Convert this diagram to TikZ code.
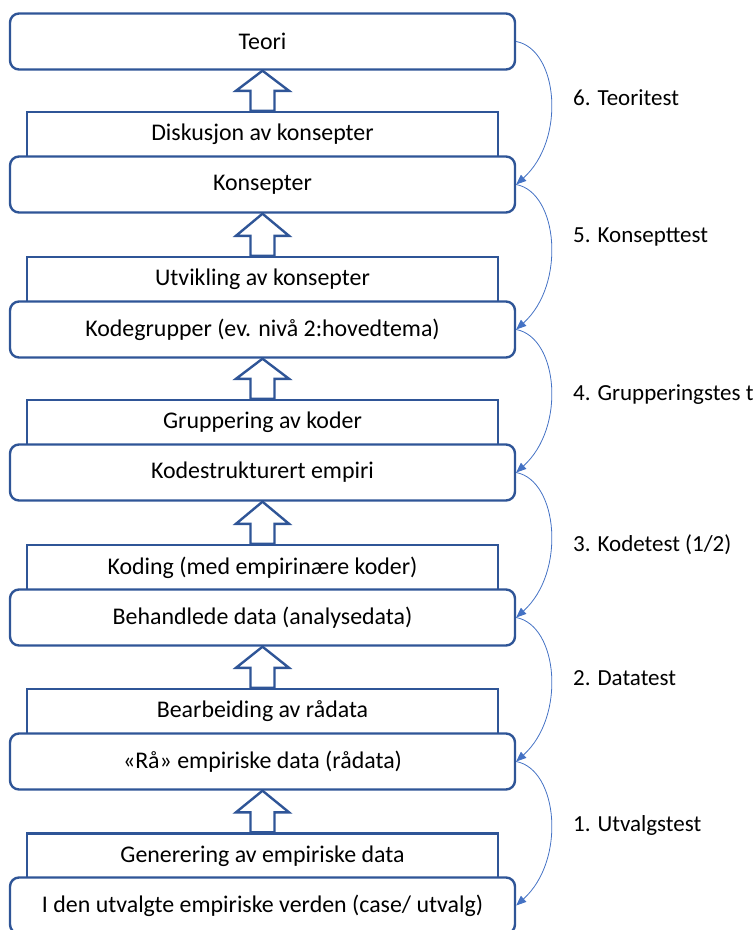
\documentclass[tikz,border=0pt]{standalone}
\usepackage{fontspec}
\setmainfont{Carlito}
\usetikzlibrary{arrows.meta}
\definecolor{boxblue}{HTML}{2F5597}
\definecolor{linkblue}{HTML}{4472C4}
\tikzset{
  stagebox/.style={draw=boxblue, line width=2.4pt, fill=white, rounded corners=9pt,
    minimum width=505pt, minimum height=56pt, inner sep=0pt, font=\fontsize{23.9}{27}\selectfont},
  procbox/.style={draw=boxblue, line width=2.4pt, fill=white,
    minimum width=471pt, minimum height=45pt, inner sep=0pt, font=\fontsize{23.9}{27}\selectfont},
  blk/.style={draw=boxblue, line width=2.4pt, fill=white, line join=miter},
  testlink/.style={draw=linkblue, line width=0.8pt, -{Triangle[length=10pt,width=8pt]}},
  testlabel/.style={anchor=west, inner sep=0pt, font=\fontsize{23}{27}\selectfont}
}
\newcommand{\blockup}[2]{%
  \draw[blk] ([xshift=-12pt]#1.north) -- ++(0,20) -- ++(-14.5,0) -- (#2.south)
    -- ([xshift=26.5pt,yshift=20pt]#1.north) -- ++(-14.5,0) -- ([xshift=12pt]#1.north) -- cycle;}
\begin{document}
\begin{tikzpicture}[x=1pt,y=1pt]
\useasboundingbox (0,0) rectangle (753,-930);
% process rectangles (drawn first)
\node[procbox] (disk) at (262.5,-134.5) {Diskusjon av konsepter};
\node[procbox] (utv)  at (262.5,-279.5) {Utvikling av konsepter};
\node[procbox] (grp)  at (262.5,-422.5) {Gruppering av koder};
\node[procbox] (kod)  at (262.5,-567.5) {Koding (med empirinære koder)};
\node[procbox] (bea)  at (262.5,-711.5) {Bearbeiding av rådata};
\node[procbox] (gen)  at (262.5,-856) {Generering av empiriske data};
% stage boxes
\node[stagebox] (teori) at (262.5,-41.5) {Teori};
\node[stagebox] (kons)  at (262.5,-184.5) {Konsepter};
\node[stagebox] (kgr)   at (262.5,-329.5) {Kodegrupper (ev. nivå 2:hovedtema)};
\node[stagebox] (kstr)  at (262.5,-472.5) {Kodestrukturert empiri};
\node[stagebox] (beh)   at (262.5,-617.5) {Behandlede data (analysedata)};
\node[stagebox] (raa)   at (262.5,-761.5) {«Rå» empiriske data (rådata)};
\node[stagebox] (iden)  at (262.5,-905.5) {I den utvalgte empiriske verden (case/ utvalg)};
% block arrows
\blockup{disk}{teori}
\blockup{utv}{kons}
\blockup{grp}{kgr}
\blockup{kod}{kstr}
\blockup{bea}{beh}
\blockup{gen}{raa}
% test links
\draw[testlink] (teori.east) .. controls +(42,-8) and +(50,45) .. (kons.east);
\draw[testlink] (kons.east) .. controls +(42,-8) and +(50,45) .. (kgr.east);
\draw[testlink] (kgr.east) .. controls +(42,-8) and +(50,45) .. (kstr.east);
\draw[testlink] (kstr.east) .. controls +(42,-8) and +(50,45) .. (beh.east);
\draw[testlink] (beh.east) .. controls +(42,-8) and +(50,45) .. (raa.east);
\draw[testlink] (raa.east) .. controls +(42,-8) and +(50,45) .. (iden.east);
% labels
\node[testlabel] (l6) at (573,-98) {6. Teoritest};
\node[testlabel] (l5) at (573,-237) {5. Konsepttest};
\node[testlabel] (l4) at (573,-395) {4. Grupperingstes t};
\node[testlabel] (l3) at (573,-545) {3. Kodetest (1/2)};
\node[testlabel] (l2) at (573,-678) {2. Datatest};
\node[testlabel] (l1) at (573,-825) {1. Utvalgstest};
\end{tikzpicture}
\end{document}
